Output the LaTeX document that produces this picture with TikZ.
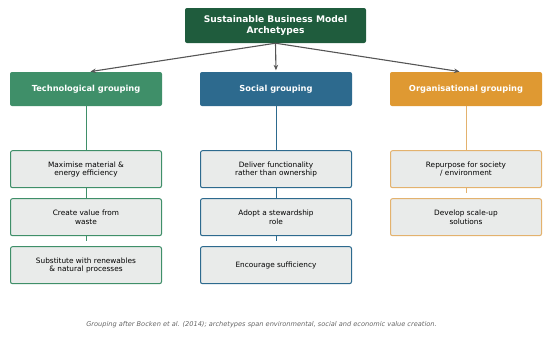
\documentclass[tikz,border=0pt]{standalone}
\usepackage{fontspec}
\setmainfont{DejaVu Sans}
\usetikzlibrary{arrows.meta,positioning,backgrounds}
\definecolor{rootgreen}{HTML}{1F5C3D}
\definecolor{techgreen}{HTML}{3F8F69}
\definecolor{socblue}{HTML}{2D6A8E}
\definecolor{orgorange}{HTML}{DF9932}
\definecolor{orgline}{HTML}{E3B26E}
\definecolor{itemgray}{HTML}{E9EBEA}
\definecolor{arrowgray}{HTML}{555555}
\definecolor{captiongray}{HTML}{666666}

\begin{document}
\begin{tikzpicture}[
  x=1pt, y=-1pt,
  node distance=10pt,
  root/.style={fill=rootgreen, rounded corners=2pt, minimum width=181pt,
    minimum height=35pt, align=center, text=white,
    font=\fontsize{9.1}{11.3}\selectfont\bfseries},
  group/.style={fill=#1, rounded corners=2pt, minimum width=152pt,
    minimum height=34pt, align=center, text=white,
    font=\fontsize{8.3}{10}\selectfont\bfseries},
  item/.style={draw=#1, fill=itemgray, line width=1pt, rounded corners=2pt,
    minimum width=151pt, minimum height=37pt, align=center,
    font=\fontsize{7.35}{8.4}\selectfont},
  arrow/.style={-{Stealth[length=5.5pt,width=4.5pt]}, arrowgray,
    line width=1.1pt, shorten >=1.5pt},
  link/.style={draw=#1, line width=0.9pt}
]
  \useasboundingbox (0,0) rectangle (550,338);
  % Nodes
  \node[root] (sbm) at (275.5,25.5) {Sustainable Business Model\\Archetypes};
  \node[group=techgreen] (tech) at (86,89) {Technological grouping};
  \node[group=socblue] (social) at (276,89) {Social grouping};
  \node[group=orgorange] (org) at (466,89) {Organisational grouping};

  \node[item=techgreen, below=44pt of tech] (tecA)
    {Maximise material \&\\energy efficiency};
  \node[item=techgreen, below=of tecA] (tecB) {Create value from\\waste};
  \node[item=techgreen, below=of tecB] (tecC)
    {Substitute with renewables\\\& natural processes};

  \node[item=socblue, below=44pt of social] (socA)
    {Deliver functionality\\rather than ownership};
  \node[item=socblue, below=of socA] (socB) {Adopt a stewardship\\role};
  \node[item=socblue, below=of socB] (socC) {Encourage sufficiency};

  \node[item=orgline, below=44pt of org] (orgA)
    {Repurpose for society\\/ environment};
  \node[item=orgline, below=of orgA] (orgB) {Develop scale-up\\solutions};

  \coordinate[above=5pt of tecC.north] (tecEnd);
  \coordinate[above=5pt of socC.north] (socEnd);
  \coordinate[above=5pt of orgB.north] (orgEnd);

  \node[font=\fontsize{6.6}{8}\selectfont\itshape, text=captiongray]
    (note) at (261.5,325)
    {Grouping after Bocken et al. (2014); archetypes span environmental, social and economic value creation.};

  % Links behind the items
  \begin{scope}[on background layer]
    \draw[link=techgreen] (tech.south) -- (tecEnd);
    \draw[link=socblue] (social.south) -- (socEnd);
    \draw[link=orgline] (org.south) -- (orgEnd);
  \end{scope}

  % Arrows
  \draw[arrow] (sbm.south) -- ([xshift=3pt]tech.north);
  \draw[arrow] (sbm.south) -- (social.north);
  \draw[arrow] (sbm.south) -- ([xshift=-5pt]org.north);
\end{tikzpicture}
\end{document}
